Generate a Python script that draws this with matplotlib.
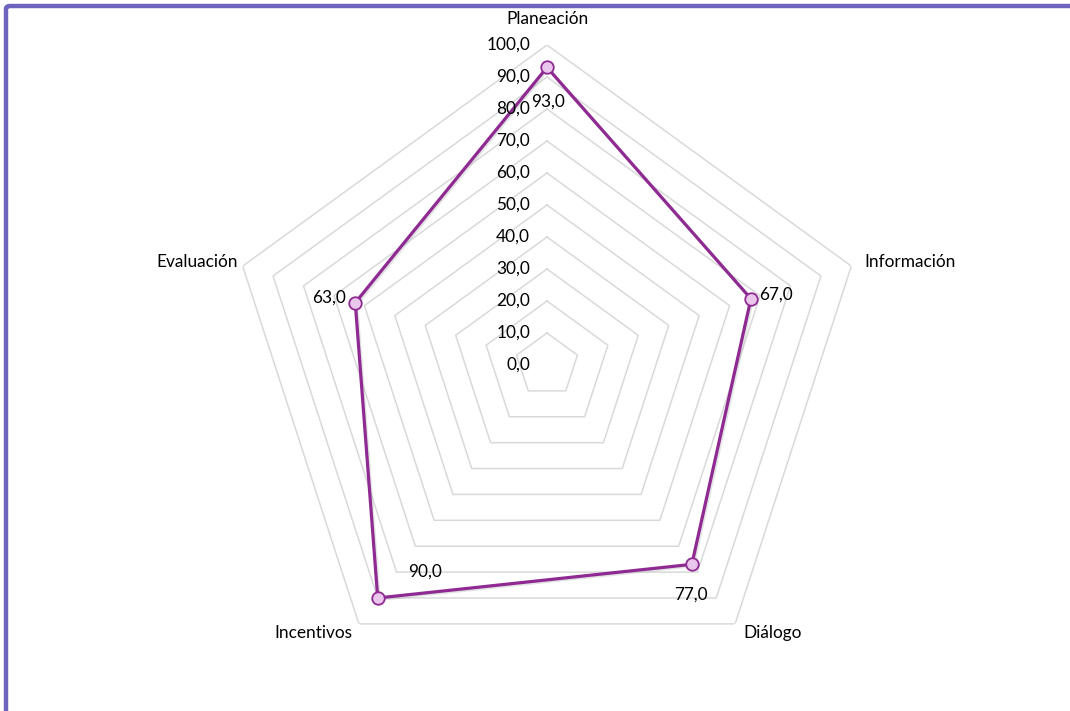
import numpy as np
import matplotlib
matplotlib.use("Agg")
import matplotlib.pyplot as plt
from matplotlib.patches import FancyBboxPatch

categories = ["Planeación", "Información", "Diálogo", "Incentivos", "Evaluación"]
values = [93.0, 67.0, 77.0, 90.0, 63.0]
ring_values = [10, 20, 30, 40, 50, 60, 70, 80, 90, 100]
tick_values = [0, 10, 20, 30, 40, 50, 60, 70, 80, 90, 100]

plt.rcParams['font.family'] = ['Lato', 'DejaVu Sans']

W, H = 1070, 711
fig = plt.figure(figsize=(W / 100, H / 100), dpi=100)
cx, cy, R = 547, 365, 320
ax = fig.add_axes([(cx - R) / W, (H - cy - R) / H, 2 * R / W, 2 * R / H], projection='polar')
ax.set_theta_zero_location('N')
ax.set_theta_direction(-1)
ax.set_ylim(0, 100)
ax.grid(False)
ax.set_xticks([])
ax.set_yticks([])
ax.spines['polar'].set_visible(False)
ax.patch.set_alpha(0)

n = len(categories)
theta = np.linspace(0, 2 * np.pi, n, endpoint=False)
theta_c = np.append(theta, theta[0])

grid_col = '#D9D9D9'
for r in ring_values:
    ax.plot(theta_c, [r] * (n + 1), color=grid_col, lw=1.1, zorder=1)

line_col = '#8E2A92'
vals_c = values + [values[0]]
# subtle shadow
ax.plot(theta_c, vals_c, color='#B0B0B0', lw=2.2, alpha=0.35, zorder=2,
        transform=ax.transData + matplotlib.transforms.ScaledTranslation(1.5 / 100, -1.5 / 100, fig.dpi_scale_trans))
ax.plot(theta_c, vals_c, color=line_col, lw=2.3, zorder=3)
ax.plot(theta, values, 'o', ms=9, mfc='#EBC6EC', mec=line_col, mew=1.3, zorder=4)

fs = 12.4
# radial tick labels
for v in tick_values:
    ax.annotate(f"{v:.1f}".replace('.', ','), xy=(0, v), xytext=(-17, 0),
                textcoords='offset pixels', ha='right', va='center', fontsize=fs, color='#000000')

# category labels
cat_off = [(0, 26, 'center'), (59, 4, 'center'), (37, -9, 'center'), (-46, -9, 'center'), (-46, 4, 'center')]
for t, lab, (dx, dy, ha) in zip(theta, categories, cat_off):
    ax.annotate(lab, xy=(t, 100), xytext=(dx, dy), textcoords='offset pixels',
                ha=ha, va='center', fontsize=fs, annotation_clip=False)

# data labels
dl_off = [(1, -34, 'center'), (8, 4, 'left'), (-1, -30, 'center'), (47, 26, 'center'), (-9, 5, 'right')]
for t, v, (dx, dy, ha) in zip(theta, values, dl_off):
    ax.annotate(f"{v:.1f}".replace('.', ','), xy=(t, v), xytext=(dx, dy), textcoords='offset pixels',
                ha=ha, va='center', fontsize=fs, annotation_clip=False, zorder=5)

# border frame
frame = FancyBboxPatch((6 / W, -20 / H), (W + 40) / W, (H + 20 - 6) / H,
                       boxstyle='round,pad=0,rounding_size=0.004', transform=fig.transFigure,
                       fill=False, ec='#6B63BD', lw=3.2, clip_on=False)
fig.patches.append(frame)

fig.savefig('out.png', dpi=100)
